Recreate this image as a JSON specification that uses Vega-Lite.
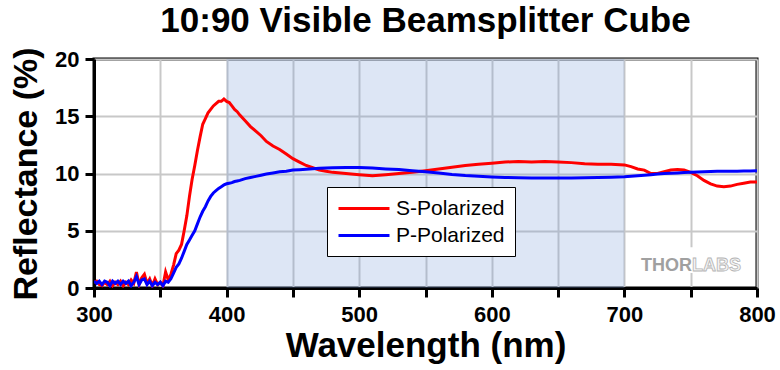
{
  "$schema": "https://vega.github.io/schema/vega-lite/v6.json",
  "width": 663,
  "height": 229,
  "autosize": {"type": "none"},
  "padding": {"left": 94, "top": 59, "right": 23, "bottom": 82},
  "background": "white",
  "title": {"text": "10:90 Visible Beamsplitter Cube", "fontSize": 35, "font": "Liberation Sans", "fontWeight": "bold", "color": "black", "anchor": "middle", "offset": 8},
  "config": {"view": {"stroke": "black", "strokeWidth": 3}, "font": "Liberation Sans"},
  "datasets": {
    "spectra": [
      {"wl": 300, "S": 0.5, "P": 0.6},
      {"wl": 302, "S": 0.6, "P": 0.4},
      {"wl": 304, "S": 0.3, "P": 0.6},
      {"wl": 306, "S": 0.2, "P": 0.3},
      {"wl": 308, "S": 0.5, "P": 0.6},
      {"wl": 310, "S": 0.3, "P": 0.5},
      {"wl": 312, "S": 0.6, "P": 0.2},
      {"wl": 314, "S": 0.2, "P": 0.6},
      {"wl": 316, "S": 0.5, "P": 0.4},
      {"wl": 318, "S": 0.3, "P": 0.6},
      {"wl": 320, "S": 0.6, "P": 0.3},
      {"wl": 322, "S": 0.2, "P": 0.6},
      {"wl": 324, "S": 0.5, "P": 0.4},
      {"wl": 326, "S": 0.3, "P": 0.6},
      {"wl": 328, "S": 0.7, "P": 0.2},
      {"wl": 330, "S": 0.4, "P": 0.5},
      {"wl": 332, "S": 1.4, "P": 1.0},
      {"wl": 334, "S": 0.3, "P": 0.3},
      {"wl": 336, "S": 0.9, "P": 0.7},
      {"wl": 338, "S": 1.2, "P": 0.8},
      {"wl": 340, "S": 0.4, "P": 0.3},
      {"wl": 342, "S": 0.8, "P": 0.6},
      {"wl": 344, "S": 0.2, "P": 0.2},
      {"wl": 346, "S": 0.8, "P": 0.5},
      {"wl": 348, "S": 0.3, "P": 0.3},
      {"wl": 350, "S": 0.5, "P": 0.5},
      {"wl": 352, "S": 0.2, "P": 0.2},
      {"wl": 354, "S": 1.4, "P": 0.6},
      {"wl": 356, "S": 0.7, "P": 0.5},
      {"wl": 358, "S": 1.2, "P": 0.8},
      {"wl": 360, "S": 2.0, "P": 1.3},
      {"wl": 362, "S": 3.0, "P": 1.8},
      {"wl": 364, "S": 3.3, "P": 2.1},
      {"wl": 366, "S": 3.8, "P": 2.6},
      {"wl": 368, "S": 5.0, "P": 3.2},
      {"wl": 370, "S": 6.3, "P": 3.8},
      {"wl": 372, "S": 8.0, "P": 4.2},
      {"wl": 374, "S": 9.5, "P": 4.6},
      {"wl": 376, "S": 10.7, "P": 5.0},
      {"wl": 378, "S": 12.0, "P": 5.6},
      {"wl": 380, "S": 13.2, "P": 6.2},
      {"wl": 382, "S": 14.3, "P": 6.7},
      {"wl": 384, "S": 14.8, "P": 7.1},
      {"wl": 386, "S": 15.3, "P": 7.6},
      {"wl": 388, "S": 15.6, "P": 8.0},
      {"wl": 390, "S": 15.9, "P": 8.3},
      {"wl": 392, "S": 16.1, "P": 8.5},
      {"wl": 394, "S": 16.3, "P": 8.7},
      {"wl": 396, "S": 16.3, "P": 8.85},
      {"wl": 398, "S": 16.5, "P": 9.0},
      {"wl": 400, "S": 16.3, "P": 9.1},
      {"wl": 402, "S": 16.2, "P": 9.15},
      {"wl": 404, "S": 15.9, "P": 9.2},
      {"wl": 406, "S": 15.6, "P": 9.3},
      {"wl": 408, "S": 15.4, "P": 9.35},
      {"wl": 410, "S": 15.1, "P": 9.4},
      {"wl": 414, "S": 14.6, "P": 9.55},
      {"wl": 418, "S": 14.1, "P": 9.65},
      {"wl": 422, "S": 13.7, "P": 9.75},
      {"wl": 426, "S": 13.3, "P": 9.85},
      {"wl": 430, "S": 12.8, "P": 9.95},
      {"wl": 435, "S": 12.4, "P": 10.05},
      {"wl": 440, "S": 12.1, "P": 10.15},
      {"wl": 445, "S": 11.7, "P": 10.2},
      {"wl": 450, "S": 11.3, "P": 10.3},
      {"wl": 455, "S": 11.0, "P": 10.33},
      {"wl": 460, "S": 10.7, "P": 10.37},
      {"wl": 465, "S": 10.5, "P": 10.42},
      {"wl": 470, "S": 10.3, "P": 10.45},
      {"wl": 475, "S": 10.2, "P": 10.48},
      {"wl": 480, "S": 10.1, "P": 10.5},
      {"wl": 490, "S": 10.0, "P": 10.52},
      {"wl": 500, "S": 9.9, "P": 10.52},
      {"wl": 510, "S": 9.8, "P": 10.47},
      {"wl": 520, "S": 9.9, "P": 10.4},
      {"wl": 530, "S": 10.0, "P": 10.35},
      {"wl": 540, "S": 10.1, "P": 10.25},
      {"wl": 550, "S": 10.25, "P": 10.15},
      {"wl": 560, "S": 10.4, "P": 10.05},
      {"wl": 570, "S": 10.55, "P": 9.92},
      {"wl": 580, "S": 10.7, "P": 9.82},
      {"wl": 590, "S": 10.8, "P": 9.75},
      {"wl": 600, "S": 10.9, "P": 9.7},
      {"wl": 610, "S": 11.0, "P": 9.65},
      {"wl": 620, "S": 11.05, "P": 9.63},
      {"wl": 630, "S": 11.0, "P": 9.6},
      {"wl": 640, "S": 11.05, "P": 9.6},
      {"wl": 650, "S": 11.0, "P": 9.6},
      {"wl": 660, "S": 10.95, "P": 9.6},
      {"wl": 670, "S": 10.85, "P": 9.62},
      {"wl": 680, "S": 10.8, "P": 9.65},
      {"wl": 690, "S": 10.8, "P": 9.68},
      {"wl": 700, "S": 10.75, "P": 9.72},
      {"wl": 705, "S": 10.6, "P": 9.76},
      {"wl": 710, "S": 10.4, "P": 9.8},
      {"wl": 715, "S": 10.3, "P": 9.85},
      {"wl": 720, "S": 10.0, "P": 9.9},
      {"wl": 725, "S": 10.0, "P": 9.95},
      {"wl": 730, "S": 10.15, "P": 10.0},
      {"wl": 735, "S": 10.3, "P": 10.02},
      {"wl": 740, "S": 10.35, "P": 10.05},
      {"wl": 745, "S": 10.3, "P": 10.08},
      {"wl": 750, "S": 10.1, "P": 10.1},
      {"wl": 755, "S": 9.8, "P": 10.13},
      {"wl": 760, "S": 9.4, "P": 10.15},
      {"wl": 765, "S": 9.1, "P": 10.18},
      {"wl": 770, "S": 8.9, "P": 10.2},
      {"wl": 775, "S": 8.85, "P": 10.2},
      {"wl": 780, "S": 8.9, "P": 10.2},
      {"wl": 785, "S": 9.05, "P": 10.2},
      {"wl": 790, "S": 9.15, "P": 10.22},
      {"wl": 795, "S": 9.25, "P": 10.22},
      {"wl": 800, "S": 9.25, "P": 10.25}
    ]
  },
  "layer": [
    {
      "data": {"values": [{"start": 400, "end": 700}]},
      "mark": {"type": "rect", "color": "#779bd7", "opacity": 0.25},
      "encoding": {
        "x": {"field": "start", "type": "quantitative", "scale": {"domain": [300, 800]}},
        "x2": {"field": "end"}
      }
    },
    {
      "data": {"name": "spectra"},
      "transform": [
        {"fold": ["S", "P"], "as": ["key", "R"]},
        {"lookup": "key", "from": {"data": {"values": [{"key": "S", "pol": "S-Polarized"}, {"key": "P", "pol": "P-Polarized"}]}, "key": "key", "fields": ["pol"]}}
      ],
      "mark": {"type": "line", "strokeWidth": 3, "clip": true},
      "encoding": {
        "x": {
          "field": "wl", "type": "quantitative", "scale": {"domain": [300, 800]},
          "axis": {
            "title": "Wavelength (nm)",
            "values": [300, 350, 400, 450, 500, 550, 600, 650, 700, 750, 800],
            "labelExpr": "datum.value % 100 === 0 ? datum.label : ''",
            "grid": true, "gridColor": "#c8c8c8", "gridWidth": 2,
            "domainColor": "black", "domainWidth": 3,
            "tickColor": "black", "tickWidth": 3, "tickSize": 9,
            "labelFontSize": 22, "labelFontWeight": "bold", "labelColor": "black", "labelFont": "Liberation Sans",
            "labelPadding": 7, "labelFlush": false, "labelOverlap": false,
            "titleFontSize": 35, "titleFontWeight": "bold", "titleColor": "black", "titleFont": "Liberation Sans",
            "titlePadding": 3
          }
        },
        "y": {
          "field": "R", "type": "quantitative", "scale": {"domain": [0, 20]},
          "axis": {
            "title": "Reflectance (%)",
            "values": [0, 2.5, 5, 7.5, 10, 12.5, 15, 17.5, 20],
            "labelExpr": "datum.value % 5 === 0 ? datum.label : ''",
            "grid": true, "gridColor": "#c8c8c8", "gridWidth": 2,
            "domainColor": "black", "domainWidth": 3,
            "tickColor": "black", "tickWidth": 3, "tickSize": 9,
            "labelFontSize": 22, "labelFontWeight": "bold", "labelColor": "black", "labelFont": "Liberation Sans",
            "labelPadding": 6, "labelFlush": false, "labelOverlap": false,
            "titleFontSize": 34, "titleFontWeight": "bold", "titleColor": "black", "titleFont": "Liberation Sans",
            "titlePadding": 11
          }
        },
        "color": {
          "field": "pol", "type": "nominal",
          "scale": {"domain": ["S-Polarized", "P-Polarized"], "range": ["#ff0000", "#0000ff"]},
          "legend": {
            "orient": "none", "legendX": 233, "legendY": 128, "title": null,
            "fillColor": "white", "strokeColor": "black", "padding": 10,
            "labelFontSize": 21, "labelColor": "black", "labelFont": "Liberation Sans",
            "symbolType": "M-1,0H4.1", "symbolSize": 400, "symbolStrokeWidth": 3,
            "labelOffset": 36, "rowPadding": 5
          }
        }
      }
    },
    {
      "data": {"values": [{"x0": 711, "x1": 795, "y0": 1.3, "y1": 3.55}]},
      "mark": {"type": "rect", "color": "white"},
      "encoding": {
        "x": {"field": "x0", "type": "quantitative"},
        "x2": {"field": "x1"},
        "y": {"field": "y0", "type": "quantitative"},
        "y2": {"field": "y1"}
      }
    },
    {
      "data": {"values": [{"wl": 751, "R": 1.9, "t": "THOR"}]},
      "mark": {"type": "text", "align": "right", "baseline": "middle", "fontSize": 18, "fontWeight": "bold", "color": "#a0a0a0", "font": "Liberation Sans"},
      "encoding": {
        "x": {"field": "wl", "type": "quantitative"},
        "y": {"field": "R", "type": "quantitative"},
        "text": {"field": "t"}
      }
    },
    {
      "data": {"values": [{"wl": 751, "R": 1.9, "t": "LABS"}]},
      "mark": {"type": "text", "align": "left", "baseline": "middle", "fontSize": 18, "fontWeight": "bold", "fill": "#f4f4f4", "stroke": "#b4b4b4", "strokeWidth": 0.8, "font": "Liberation Sans"},
      "encoding": {
        "x": {"field": "wl", "type": "quantitative"},
        "y": {"field": "R", "type": "quantitative"},
        "text": {"field": "t"}
      }
    }
  ]
}
